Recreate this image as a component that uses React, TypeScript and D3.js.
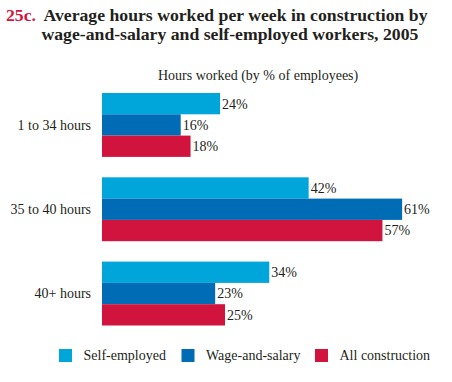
import React from "react";
import * as d3 from "d3";

const categories = ["1 to 34 hours", "35 to 40 hours", "40+ hours"];
const seriesNames = ["Self-employed", "Wage-and-salary", "All construction"];
const selfEmployed = [24, 42, 34];
const wageAndSalary = [16, 61, 23];
const allConstruction = [18, 57, 25];
const colors = ["#00a6da", "#006cb6", "#d0143e"];

const W = 452;
const H = 382;
const FONT = "'Liberation Serif', 'Times New Roman', serif";

export default function App() {
  const series = [selfEmployed, wageAndSalary, allConstruction];
  const x = d3.scaleLinear().domain([0, 100]).range([102, 594]);
  const y0 = d3
    .scaleBand<string>()
    .domain(categories)
    .range([93, 325.5])
    .paddingInner(0.242)
    .paddingOuter(0);
  const y1 = d3
    .scaleBand<string>()
    .domain(seriesNames)
    .range([0, y0.bandwidth()])
    .padding(0);

  const legendX = [59, 181.5, 315];

  return (
    <svg
      width={W}
      height={H}
      style={{ position: "absolute", left: 0, top: 0, background: "#fff" }}
      fontFamily={FONT}
    >
      <text x={6} y={21} fontSize={17.7} fontWeight="bold" fill="#d0143e">
        25c.
      </text>
      <text x={43.5} y={21} fontSize={17.7} fontWeight="bold" fill="#231f20">
        Average hours worked per week in construction by
      </text>
      <text x={41.5} y={40} fontSize={17.7} fontWeight="bold" fill="#231f20">
        wage-and-salary and self-employed workers, 2005
      </text>
      <text x={158} y={80} fontSize={14} fill="#231f20">
        Hours worked (by % of employees)
      </text>

      {categories.map((c, ci) => (
        <g key={c}>
          <text
            x={91}
            y={(y0(c) ?? 0) + y0.bandwidth() / 2}
            dy="0.35em"
            fontSize={14}
            textAnchor="end"
            fill="#231f20"
          >
            {c}
          </text>
          {seriesNames.map((s, si) => {
            const v = series[si][ci];
            const yy = (y0(c) ?? 0) + (y1(s) ?? 0);
            return (
              <g key={s}>
                <rect
                  x={x(0)}
                  y={yy}
                  width={x(v) - x(0)}
                  height={y1.bandwidth()}
                  fill={colors[si]}
                />
                <text
                  x={x(v) + 2}
                  y={yy + y1.bandwidth() / 2}
                  dy="0.35em"
                  fontSize={14}
                  fill="#231f20"
                >
                  {v}%
                </text>
              </g>
            );
          })}
        </g>
      ))}

      {seriesNames.map((s, si) => (
        <g key={s}>
          <rect x={legendX[si]} y={349} width={13} height={13} fill={colors[si]} />
          <text x={legendX[si] + 24.5} y={360} fontSize={14} fill="#231f20">
            {s}
          </text>
        </g>
      ))}
    </svg>
  );
}
